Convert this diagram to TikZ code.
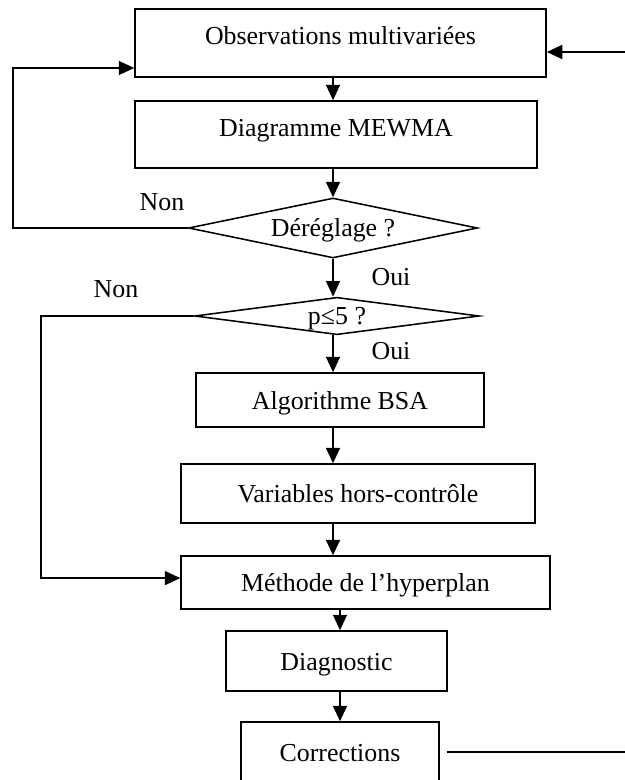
\documentclass[tikz,border=0pt]{standalone}
\usepackage{fontspec}
\setmainfont{Liberation Serif}
\usetikzlibrary{arrows.meta,shapes.geometric}

\begin{document}
\begin{tikzpicture}[x=0.025cm, y=-0.025cm, >={Triangle[length=11pt,width=10pt]},
    every node/.style={font=\fontsize{18.4}{22}\selectfont},
    box/.style 2 args={draw,line width=1.1pt,rectangle,inner sep=0pt,
        minimum width=#1*0.025cm,minimum height=#2*0.025cm,
        text height=18pt,text depth=4.6pt},
    high/.style={text height=13.5pt,text depth=11pt},
    test/.style 2 args={draw,line width=1.1pt,diamond,inner sep=0pt,
        minimum width=#1*0.025cm,minimum height=#2*0.025cm,
        text height=16.6pt,text depth=4.6pt},
    flow/.style={->,line width=1.1pt}]

\useasboundingbox (0,0) rectangle (624,780);
% vertical axes of the arrows
\coordinate (axis) at (333,0);
\coordinate (axisb) at (340,0);

% draw the steps
\node[box={411}{68},high] (obs) at (340.5,43) {Observations multivariées};
\node[box={402}{67},high] (mewma) at (336,134.5) {Diagramme MEWMA};
\node[test={289}{60},aspect=4.8] (dereg) at (333,228) {Déréglage ?};
\node[test={280}{37},aspect=7.6] (pfive) at (337,316) {p≤5 ?};
\node[box={288}{54}] (bsa) at (340,400) {Algorithme BSA};
\node[box={354}{59}] (vars) at (358,493.5) {Variables hors-contrôle};
\node[box={369}{53}] (hyper) at (365.5,582.5) {Méthode de l’hyperplan};
\node[box={221}{60}] (diag) at (336.5,661) {Diagnostic};
\node[box={198}{60}] (corr) at (340,752) {Corrections};

% draw the arrows down the chart
\draw[flow] (obs.south -| axis) -- (mewma.north -| axis);
\draw[flow] (mewma.south -| axis) -- (dereg.north);
\draw[flow] (dereg.south) -- (pfive.north -| axis);
\draw[flow] (pfive.south -| axis) -- (bsa.north -| axis);
\draw[flow] (bsa.south -| axis) -- (vars.north -| axis);
\draw[flow] (vars.south -| axis) -- (hyper.north -| axis);
\draw[flow] (hyper.south -| axisb) -- (diag.north -| axisb);
\draw[flow] (diag.south -| axisb) -- (corr.north -| axisb);

% draw the loops back
\draw[flow] (dereg.west) -- ++(-175,0) |- ([yshift=-0.625cm]obs.west);
\draw[flow] (pfive.west) -- ++(-153,0) |- ([yshift=0.11cm]hyper.west);
\draw[flow] ([xshift=0.175cm]corr.east) -- (632,752) |- ([yshift=-0.225cm]obs.east);

% place the answers
\node (non1) at (162,202) {Non};
\node (oui1) at (391,277) {Oui};
\node (non2) at (116,289) {Non};
\node (oui2) at (391,351) {Oui};

\end{tikzpicture}
\end{document}
